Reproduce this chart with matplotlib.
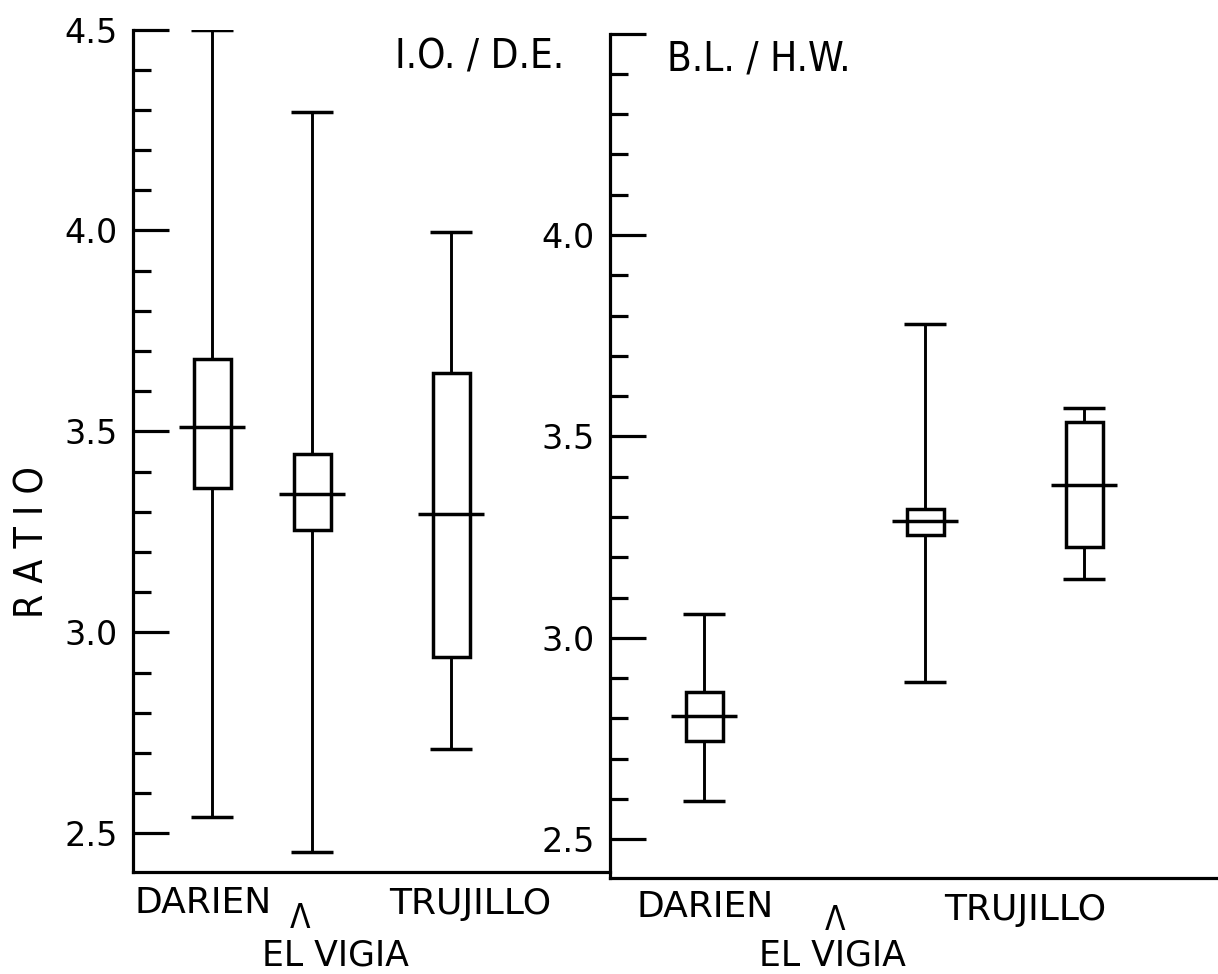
import matplotlib
matplotlib.use("Agg")
import matplotlib.pyplot as plt
from matplotlib.patches import Rectangle
from matplotlib.ticker import MultipleLocator

# values (min, box bottom, middle line, box top, max)
sites = ["DARIEN", "EL VIGIA", "TRUJILLO"]

io_de_low = [2.54, 2.455, 2.71]
io_de_q1 = [3.36, 3.255, 2.94]
io_de_mid = [3.51, 3.345, 3.295]
io_de_q3 = [3.68, 3.445, 3.645]
io_de_high = [4.50, 4.295, 3.995]

bl_hw_low = [2.595, 2.89, 3.145]
bl_hw_q1 = [2.745, 3.255, 3.225]
bl_hw_mid = [2.805, 3.29, 3.38]
bl_hw_q3 = [2.865, 3.32, 3.535]
bl_hw_high = [3.06, 3.78, 3.57]

W, H = 1218, 974
BOX_W = 0.37
MED_W = 0.66
CAP_W = 0.42
LW = 2.5


def draw_boxes(ax, positions, low, q1, mid, q3, high):
    for x, lo, a, m, b, hi in zip(positions, low, q1, mid, q3, high):
        ax.vlines(x, lo, a, color="black", lw=2.1)
        ax.vlines(x, b, hi, color="black", lw=2.1)
        ax.hlines([lo, hi], x - CAP_W / 2, x + CAP_W / 2, color="black", lw=LW)
        ax.add_patch(Rectangle((x - BOX_W / 2, a), BOX_W, b - a,
                               fill=False, edgecolor="black", lw=LW))
        ax.hlines(m, x - MED_W / 2, x + MED_W / 2, color="black", lw=LW)


def style_axis(ax, xmax, labels):
    ax.set_xlim(0, xmax)
    ax.set_ylim(2.404, 4.5)
    for side in ["top", "right"]:
        ax.spines[side].set_visible(False)
    for side in ["left", "bottom"]:
        ax.spines[side].set_linewidth(2.3)
    ax.set_xticks([])
    ax.set_yticks([2.5, 3.0, 3.5, 4.0, 4.5], labels=labels)
    ax.yaxis.set_minor_locator(MultipleLocator(0.1))
    ax.tick_params(axis="y", which="major", direction="in", length=26,
                   width=2.3, labelsize=24, pad=11)
    ax.tick_params(axis="y", which="minor", direction="in", length=13,
                   width=2.3)


def put_text(ax, x, y_px, s, size, **kw):
    ax.annotate(s, xy=(x, H - y_px), xycoords=("data", "figure pixels"),
                ha="center", va="center", fontsize=size,
                annotation_clip=False, **kw)


fig = plt.figure(figsize=(W / 100, H / 100), dpi=100)

# left panel: I.O. / D.E.
ax1 = fig.add_axes([133 / W, (H - 872) / H, (610 - 133) / W, (872 - 29.5) / H])
ax1.patch.set_alpha(0)
style_axis(ax1, 4.77, ["2.5", "3.0", "3.5", "4.0", "4.5"])
draw_boxes(ax1, [0.79, 1.79, 3.18], io_de_low, io_de_q1, io_de_mid,
           io_de_q3, io_de_high)

# right panel: B.L. / H.W.
ax2 = fig.add_axes([610 / W, (H - 878) / H, (W - 610) / W, (878 - 33.5) / H])
ax2.patch.set_alpha(0)
style_axis(ax2, 6.08, ["2.5", "3.0", "3.5", "4.0", ""])
draw_boxes(ax2, [0.94, 3.15, 4.74], bl_hw_low, bl_hw_q1, bl_hw_mid,
           bl_hw_q3, bl_hw_high)

# category labels, El Vigia set below with a caret
put_text(ax1, 0.70, 903, sites[0], 26)
put_text(ax1, 3.37, 904, sites[2], 26)
put_text(ax1, 1.67, 918, "Λ", 24, fontstretch="condensed")
put_text(ax1, 2.02, 955, sites[1], 25)

put_text(ax2, 0.95, 907, sites[0], 26)
put_text(ax2, 4.15, 910, sites[2], 26)
put_text(ax2, 2.25, 921, "Λ", 24, fontstretch="condensed")
put_text(ax2, 2.22, 955, sites[1], 25)

fig.text(395 / W, (H - 58) / H, "I.O. / D.E.", fontsize=29,
         ha="left", va="center", fontstretch="condensed")
fig.text(667 / W, (H - 60) / H, "B.L. / H.W.", fontsize=29,
         ha="left", va="center", fontstretch="condensed")
fig.text(32 / W, (H - 542) / H, "R A T I O", fontsize=28, rotation=90,
         ha="center", va="center", fontstretch="condensed")

fig.savefig("out.png", dpi=100)
